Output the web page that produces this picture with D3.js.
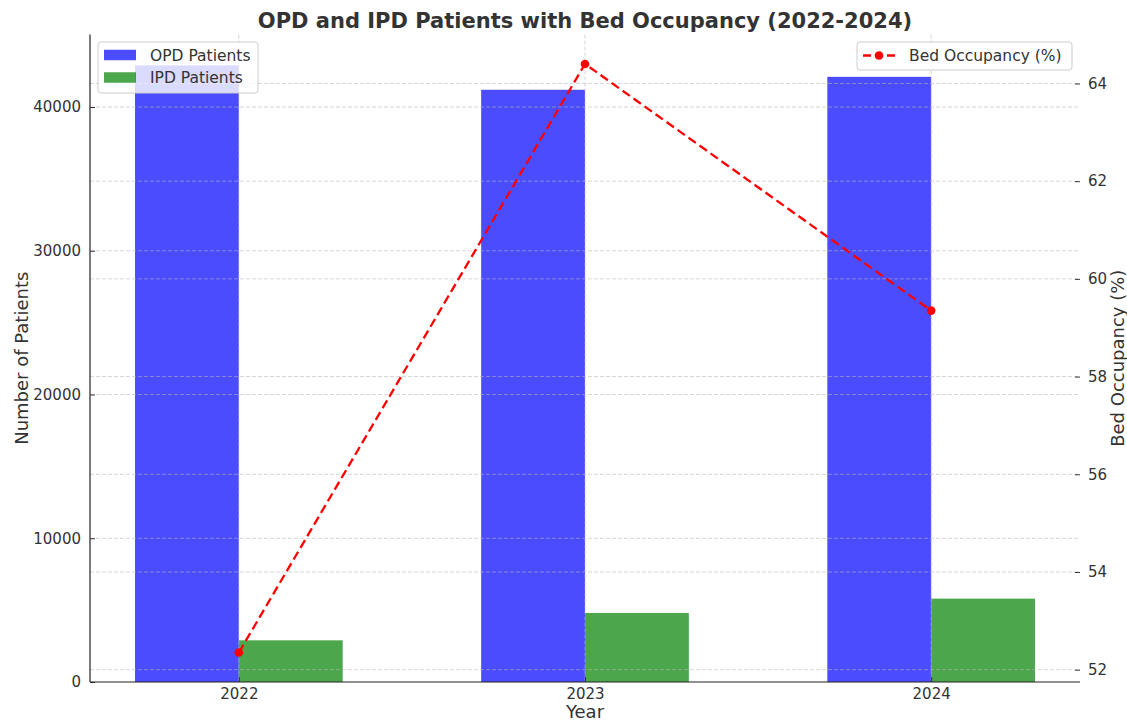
<!DOCTYPE html>
<html>
<head>
<meta charset="utf-8">
<script src="https://cdn.jsdelivr.net/npm/d3@7"></script>
<style>
  html, body { margin: 0; padding: 0; background: #fff; }
  svg text { font-family: "DejaVu Sans", sans-serif; }
</style>
</head>
<body>
<svg id="chart" width="1127" height="723"></svg>
<script>
const years = ["2022", "2023", "2024"];
const opdPatients = [42900, 41200, 42100];
const ipdPatients = [2900, 4800, 5800];
const bedOccupancy = [52.35, 64.4, 59.35];
const leftTicks = [0, 10000, 20000, 30000, 40000];
const rightTicks = [52, 54, 56, 58, 60, 62, 64];

const W = 1127, H = 723;
const m = { left: 90, right: 1080, top: 34.5, bottom: 682 };
const svg = d3.select("#chart");

const barW = 0.3;
const x = d3.scaleLinear().domain([-0.43, 2.43]).range([m.left, m.right]);
const yL = d3.scaleLinear().domain([0, d3.max(opdPatients) * 1.05]).range([m.bottom, m.top]);
const bmin = d3.min(bedOccupancy), bmax = d3.max(bedOccupancy), pad = (bmax - bmin) * 0.05;
const yR = d3.scaleLinear().domain([bmin - pad, bmax + pad]).range([m.bottom, m.top]);

const textColor = "#333";

// Bars
const gBars = svg.append("g");
gBars.selectAll(".opd").data(opdPatients).join("rect")
  .attr("x", (d, i) => x(i - barW))
  .attr("width", (d, i) => x(i) - x(i - barW))
  .attr("y", d => yL(d))
  .attr("height", d => yL(0) - yL(d))
  .attr("fill", "blue").attr("fill-opacity", 0.7);
gBars.selectAll(".ipd").data(ipdPatients).join("rect")
  .attr("x", (d, i) => x(i))
  .attr("width", (d, i) => x(i + barW) - x(i))
  .attr("y", d => yL(d))
  .attr("height", d => yL(0) - yL(d))
  .attr("fill", "green").attr("fill-opacity", 0.7);

// Grids
const grid = svg.append("g").attr("stroke", "#b8b8b8").attr("stroke-opacity", 0.7)
  .attr("stroke-width", 0.8).attr("stroke-dasharray", "4,2").attr("fill", "none");
grid.selectAll(".gl").data(leftTicks.slice(1)).join("line")
  .attr("x1", m.left).attr("x2", m.right).attr("y1", d => yL(d)).attr("y2", d => yL(d));
grid.selectAll(".gr").data(rightTicks).join("line")
  .attr("x1", m.left).attr("x2", m.right).attr("y1", d => yR(d)).attr("y2", d => yR(d));
grid.selectAll(".gx").data(years).join("line")
  .attr("x1", (d, i) => x(i)).attr("x2", (d, i) => x(i)).attr("y1", m.top).attr("y2", m.bottom);

// Axes
const axL = d3.axisLeft(yL).tickValues(leftTicks).tickSize(-5).tickPadding(9).tickFormat(d3.format("d"));
const gL = svg.append("g").attr("transform", `translate(${m.left},0)`).call(axL);
gL.select(".domain").attr("d", `M0,${m.top}V${m.bottom}`).attr("stroke", "#222").attr("stroke-width", 1.2);

const axR = d3.axisRight(yR).tickValues(rightTicks).tickSize(-5).tickPadding(8).tickFormat(d3.format("d"));
const gR = svg.append("g").attr("transform", `translate(${m.right},0)`).call(axR);
gR.select(".domain").remove();

const axB = d3.axisBottom(x).tickValues([0, 1, 2]).tickSize(-5).tickPadding(6).tickFormat(i => years[i]);
const gB = svg.append("g").attr("transform", `translate(0,${m.bottom})`).call(axB);
gB.select(".domain").attr("d", `M${m.left},0H${m.right}`).attr("stroke", "#222").attr("stroke-width", 1.2);

[gL, gR, gB].forEach(g => {
  g.selectAll(".tick line").attr("stroke", "#333").attr("stroke-width", 1);
  g.selectAll(".tick text").attr("fill", textColor).style("font-size", "15px").style("font-family", "DejaVu Sans");
});

// Line
const line = d3.line().x((d, i) => x(i)).y(d => yR(d));
svg.append("path").datum(bedOccupancy).attr("d", line)
  .attr("fill", "none").attr("stroke", "red").attr("stroke-width", 2.3).attr("stroke-dasharray", "9,4.5");
svg.selectAll(".pt").data(bedOccupancy).join("circle")
  .attr("cx", (d, i) => x(i)).attr("cy", d => yR(d)).attr("r", 4.3).attr("fill", "red");

// Title & labels
svg.append("text").attr("x", (m.left + m.right) / 2).attr("y", 27.5).attr("text-anchor", "middle")
  .style("font-size", "21px").style("font-weight", "bold").attr("fill", textColor)
  .text("OPD and IPD Patients with Bed Occupancy (2022-2024)");
svg.append("text").attr("x", (m.left + m.right) / 2).attr("y", 718).attr("text-anchor", "middle")
  .style("font-size", "18px").attr("fill", textColor).text("Year");
svg.append("text").attr("transform", `translate(28,${(m.top + m.bottom) / 2}) rotate(-90)`)
  .attr("text-anchor", "middle").style("font-size", "18px").attr("fill", textColor).text("Number of Patients");
svg.append("text").attr("transform", `translate(1124,${(m.top + m.bottom) / 2}) rotate(-90)`)
  .attr("text-anchor", "middle").style("font-size", "18px").attr("fill", textColor).text("Bed Occupancy (%)");

// Legend 1
const lg1 = svg.append("g");
lg1.append("rect").attr("x", 98).attr("y", 42).attr("width", 160).attr("height", 51).attr("rx", 3)
  .attr("fill", "white").attr("fill-opacity", 0.8).attr("stroke", "#ccc");
const legItems = [{ label: "OPD Patients", color: "blue" }, { label: "IPD Patients", color: "green" }];
legItems.forEach((it, k) => {
  const cy = 55 + k * 22.5;
  lg1.append("rect").attr("x", 104).attr("y", cy - 5.25).attr("width", 32).attr("height", 10.5)
    .attr("fill", it.color).attr("fill-opacity", 0.7);
  lg1.append("text").attr("x", 150).attr("y", cy + 5.5).style("font-size", "15.5px").attr("fill", textColor).text(it.label);
});

// Legend 2
const lg2 = svg.append("g");
lg2.append("rect").attr("x", 857).attr("y", 42).attr("width", 215).attr("height", 28).attr("rx", 3)
  .attr("fill", "white").attr("fill-opacity", 0.8).attr("stroke", "#ccc");
lg2.append("line").attr("x1", 863).attr("x2", 895).attr("y1", 55.5).attr("y2", 55.5)
  .attr("stroke", "red").attr("stroke-width", 2.3).attr("stroke-dasharray", "8,4");
lg2.append("circle").attr("cx", 879).attr("cy", 55.5).attr("r", 4.3).attr("fill", "red");
lg2.append("text").attr("x", 909).attr("y", 61).style("font-size", "15.5px").attr("fill", textColor).text("Bed Occupancy (%)");
</script>
</body>
</html>
